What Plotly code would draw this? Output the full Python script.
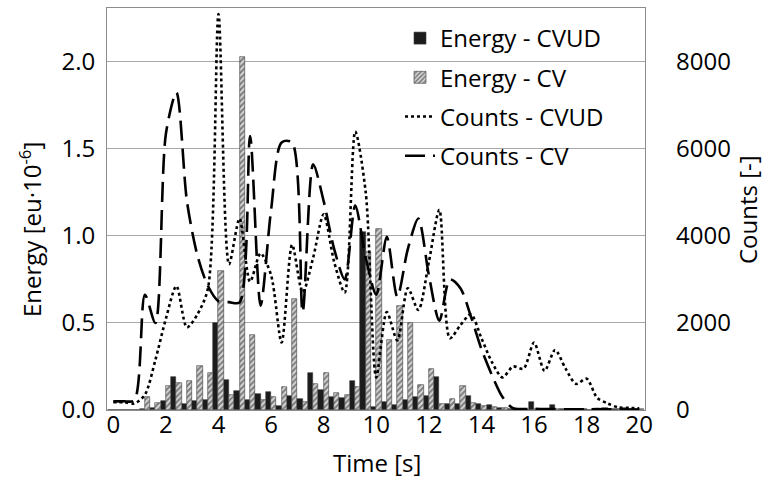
import plotly.graph_objects as go

# Time stamps of the samples [s]
time_s = [0.0, 0.4, 0.8, 1.2, 1.6, 2.0, 2.4, 2.8, 3.2, 3.6,
          4.0, 4.4, 4.8, 5.2, 5.6, 6.0, 6.4, 6.8, 7.2, 7.6,
          8.0, 8.4, 8.8, 9.2, 9.6, 10.0, 10.4, 10.8, 11.2, 11.6,
          12.0, 12.4, 12.8, 13.2, 13.6, 14.0, 14.4, 14.8, 15.2, 15.6,
          16.0, 16.4, 16.8, 17.2, 17.6, 18.0, 18.4, 18.8, 19.2, 19.6, 20.0]

# Energy [eu·10^-6]
energy_cvud = [0, 0, 0, 0.005, 0.012, 0.053, 0.19, 0.035, 0.05, 0.055,
               0.50, 0.17, 0.11, 0.058, 0.093, 0.103, 0.024, 0.083, 0.064, 0.21,
               0.113, 0.074, 0.069, 0.164, 1.02, 0.015, 0.047, 0.029, 0.059, 0.074,
               0.083, 0.19, 0.036, 0.036, 0.078, 0.036, 0.026, 0.01, 0.005, 0.003,
               0.045, 0.004, 0.026, 0.003, 0.003, 0.004, 0.003, 0.01, 0.006, 0.012, 0.004]
energy_cv = [0, 0, 0, 0.077, 0.04, 0.14, 0.155, 0.165, 0.25, 0.21,
             0.80, 0.087, 2.03, 0.43, 0.055, 0.075, 0.135, 0.64, 0.047, 0.15,
             0.21, 0.098, 0.089, 0.135, 0.91, 1.04, 0.40, 0.595, 0.50, 0.143,
             0.237, 0.036, 0.064, 0.137, 0.04, 0.024, 0.016, 0.01, 0.004, 0.002,
             0.004, 0.003, 0.004, 0.002, 0.002, 0.002, 0.002, 0.003, 0.003, 0.004, 0.003]

# Counts [-]
counts_cvud = [180, 180, 150, 350, 1150, 2100, 2850, 1900, 2200, 2800,
               9100, 3350, 4400, 2950, 3600, 3100, 1550, 3800, 2700, 3500,
               4500, 3400, 2700, 6400, 5000, 750, 2250, 1600, 2800, 2300,
               3400, 4600, 1650, 1950, 2200, 1650, 1100, 750, 1000, 950,
               1550, 900, 1380, 950, 600, 720, 280, 150, 60, 50, 40]
counts_cv = [200, 200, 220, 2650, 2000, 6350, 7300, 4800, 3550, 2850,
             2500, 2480, 2470, 6300, 2400, 4600, 6150, 6150, 2250, 5650,
             4800, 3700, 3000, 4700, 3500, 2650, 3980, 2600, 3700, 4400,
             3100, 2050, 3000, 2800, 2150, 1400, 800, 300, 40, 20,
             30, 20, 20, 15, 15, 15, 20, 15, 15, 10, 10]

x_ticks = [0, 2, 4, 6, 8, 10, 12, 14, 16, 18, 20]
energy_ticks = [0.0, 0.5, 1.0, 1.5, 2.0]
count_ticks = [0, 2000, 4000, 6000, 8000]

FONT = "Open Sans"
FS = 24

fig = go.Figure()
fig.add_trace(go.Bar(
    x=time_s, y=energy_cvud, name="Energy - CVUD", legendgroup="g1",
    marker=dict(color="#1c1c1c", line=dict(color="#3a3a3a", width=0.6)),
))
fig.add_trace(go.Bar(
    x=time_s, y=energy_cv, name="Energy - CV", legendgroup="g2",
    marker=dict(color="#d0d0d0", line=dict(color="#3a3a3a", width=0.6),
                pattern=dict(shape="/", fgcolor="#202020", bgcolor="#d8d8d8",
                             size=4, solidity=0.5)),
))
fig.add_trace(go.Scatter(
    x=time_s, y=counts_cvud, name="Counts - CVUD", legendgroup="g3",
    yaxis="y2", mode="lines",
    line=dict(color="black", width=2.6, dash="dot", shape="spline", smoothing=0.8),
))
fig.add_trace(go.Scatter(
    x=time_s, y=counts_cv, name="Counts - CV", legendgroup="g4",
    yaxis="y2", mode="lines",
    line=dict(color="black", width=2.6, dash="20px,8px", shape="spline", smoothing=0.8),
))

W, H = 764, 484
L, R, T, B = 107, 119, 8, 74
pw = W - L - R
ph = H - T - B


def px_x(px):
    return (px - L) / pw


def px_y(py):
    return (H - B - py) / ph


fig.update_layout(
    width=W, height=H,
    margin=dict(l=L, r=R, t=T, b=B, autoexpand=False),
    paper_bgcolor="white", plot_bgcolor="white",
    font=dict(family=FONT, size=FS, color="black"),
    barmode="group", bargap=0, bargroupgap=0,
    showlegend=True,
    legend=dict(x=px_x(400), y=px_y(16), xanchor="left", yanchor="top",
                bgcolor="rgba(0,0,0,0)", font=dict(size=FS, family=FONT),
                itemwidth=30, tracegroupgap=5),
    xaxis=dict(range=[-0.24, 20.22], tickvals=x_ticks, ticks="", ticklen=0,
               showgrid=False, zeroline=False, showline=True, linecolor="#8c8c8c",
               linewidth=1, mirror=True, ticklabelstandoff=-7),
    yaxis=dict(range=[0, 2.31], tickvals=energy_ticks, tickformat=".1f", ticks="",
               showgrid=True, gridcolor="#a8a8a8", gridwidth=1, zeroline=False,
               showline=True, linecolor="#8c8c8c", linewidth=1, mirror=True,
               ticklabelstandoff=6),
    yaxis2=dict(range=[0, 9241], tickvals=count_ticks, overlaying="y", side="right",
                ticks="", showgrid=False, zeroline=False, showline=False,
                ticklabelstandoff=30),
    shapes=[dict(type="rect", xref="paper", yref="paper", layer="between",
                 x0=px_x(375), x1=px_x(643), y0=px_y(178), y1=0.998,
                 fillcolor="white", line=dict(width=0))],
    annotations=[
        dict(text="Time [s]", xref="paper", yref="paper", x=px_x(377), y=px_y(462),
             showarrow=False, xanchor="center", yanchor="middle"),
        dict(text="Energy [eu·10<sup>-6</sup>]", xref="paper", yref="paper",
             x=px_x(30), y=px_y(230), textangle=-90, showarrow=False,
             xanchor="center", yanchor="middle"),
        dict(text="Counts [-]", xref="paper", yref="paper",
             x=px_x(747), y=px_y(210), textangle=-90, showarrow=False,
             xanchor="center", yanchor="middle"),
    ],
)

fig.write_html("out.html", config={"displayModeBar": False},
               post_script="document.body.style.margin='0';document.body.style.overflow='hidden';")
